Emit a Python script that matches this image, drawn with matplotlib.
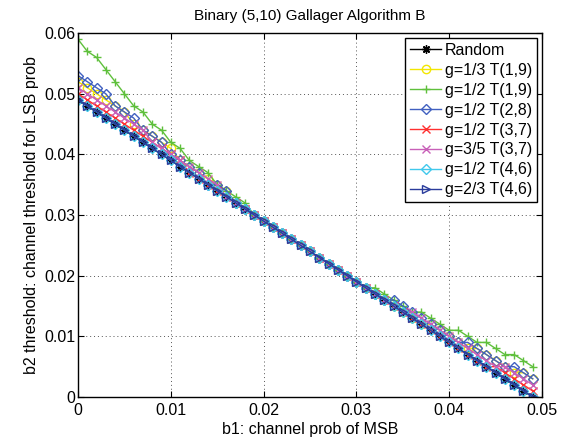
import matplotlib
matplotlib.use("Agg")
import matplotlib.pyplot as plt

plt.rcParams["font.family"] = ["Liberation Sans", "DejaVu Sans"]
plt.rcParams["font.size"] = 11.5

# b1 grid, in units of 0.001
b1_milli = [0, 1, 2, 3, 4, 5, 6, 7, 8, 9,
            10, 11, 12, 13, 14, 15, 16, 17, 18, 19,
            20, 21, 22, 23, 24, 25, 26, 27, 28, 29,
            30, 31, 32, 33, 34, 35, 36, 37, 38, 39,
            40, 41, 42, 43, 44, 45, 46, 47, 48, 49]

# b2 thresholds, in units of 0.001
random_b2 = [49, 48, 47, 46, 45, 44, 43, 42, 41, 40,
             39, 38, 37, 36, 35, 34, 33, 32, 31, 30,
             29, 28, 27, 26, 25, 24, 23, 22, 21, 20,
             19, 18, 17, 16, 15, 14, 13, 12, 11, 10,
             9, 8, 7, 6, 5, 4, 3, 2, 1, 0]
g13_t19 = [52, 51, 50, 49, 48, 47, 45, 44, 43, 42,
           41, 39, 38, 37, 36, 35, 34, 32, 31, 30,
           29, 28, 27, 26, 25, 24, 23, 22, 21, 20,
           19, 18, 17, 16, 15, 14, 13, 12, 12, 11,
           10, 9, 8, 8, 7, 6, 5, 4, 4, 3]
g12_t19 = [59, 57, 56, 54, 52, 50, 48, 47, 45, 44,
           42, 41, 39, 38, 37, 35, 34, 33, 32, 30,
           29, 28, 27, 26, 25, 24, 23, 22, 21, 20,
           19, 18, 18, 17, 16, 15, 14, 14, 13, 12,
           11, 11, 10, 9, 9, 8, 7, 7, 6, 5]
g12_t28 = [53, 52, 51, 50, 48, 47, 46, 44, 43, 42,
           40, 39, 38, 37, 35, 35, 34, 32, 31, 30,
           29, 28, 27, 26, 25, 24, 23, 22, 21, 20,
           19, 18, 17, 16, 16, 15, 14, 13, 12, 11,
           10, 9, 9, 8, 7, 6, 5, 5, 4, 3]
g12_t37 = [50, 49, 48, 47, 46, 45, 44, 43, 42, 41,
           40, 39, 37, 36, 35, 34, 33, 32, 31, 30,
           29, 28, 27, 26, 25, 24, 23, 22, 21, 20,
           19, 18, 17, 16, 15, 14, 13, 12, 11, 10,
           9, 8, 7, 6, 5, 5, 4, 3, 2, 1]
g35_t37 = [51, 50, 49, 48, 47, 46, 45, 44, 42, 41,
           40, 39, 38, 37, 36, 35, 33, 32, 31, 30,
           29, 28, 27, 26, 25, 24, 23, 22, 21, 20,
           19, 18, 17, 16, 15, 14, 14, 13, 12, 11,
           10, 9, 8, 7, 6, 5, 5, 4, 3, 2]
g12_t46 = [49, 48, 47, 46, 45, 44, 43, 42, 41, 40,
           39, 38, 37, 36, 35, 34, 33, 32, 31, 30,
           29, 28, 27, 26, 25, 24, 23, 22, 21, 20,
           19, 18, 17, 16, 15, 14, 13, 12, 11, 10,
           9, 8, 7, 6, 5, 4, 3, 2, 1, 0]
g23_t46 = [49, 48, 47, 46, 45, 44, 43, 42, 41, 40,
           39, 38, 37, 36, 35, 34, 33, 32, 31, 30,
           29, 28, 27, 26, 25, 24, 23, 22, 21, 20,
           19, 18, 17, 16, 15, 14, 13, 12, 11, 10,
           9, 8, 7, 6, 5, 4, 3, 2, 1, 0]

series = [
    ("Random", random_b2, "black", (8, 2, 0)),
    ("g=1/3 T(1,9)", g13_t19, "#f2e600", "o"),
    ("g=1/2 T(1,9)", g12_t19, "#5fc03c", "+"),
    ("g=1/2 T(2,8)", g12_t28, "#4060c0", "D"),
    ("g=1/2 T(3,7)", g12_t37, "#ff3030", "x"),
    ("g=3/5 T(3,7)", g35_t37, "#c860b8", "x"),
    ("g=1/2 T(4,6)", g12_t46, "#40c8ec", "D"),
    ("g=2/3 T(4,6)", g23_t46, "#2a3c9c", ">"),
]

x = [v * 0.001 for v in b1_milli]

fig = plt.figure(figsize=(5.76, 4.40), dpi=100)
ax = fig.add_axes([0.1354, 0.0977, 0.8056, 0.827])

for label, vals, color, marker in series:
    y = [v * 0.001 for v in vals]
    ms = 5.5 if marker == "D" else 6
    ax.plot(x, y, color=color, marker=marker, markersize=ms,
            markerfacecolor="none", markeredgecolor=color,
            markeredgewidth=1.0, linewidth=1.0, label=label)

ax.set_xlim(0, 0.05)
ax.set_ylim(0, 0.06)
ax.set_xticks([0, 0.01, 0.02, 0.03, 0.04, 0.05])
ax.set_xticklabels(["0", "0.01", "0.02", "0.03", "0.04", "0.05"])
ax.set_yticks([0, 0.01, 0.02, 0.03, 0.04, 0.05, 0.06])
ax.set_yticklabels(["0", "0.01", "0.02", "0.03", "0.04", "0.05", "0.06"])
ax.tick_params(direction="in", top=True, right=True, length=4, width=0.8,
               labelsize=11.5)
ax.tick_params(axis="x", pad=4)
ax.tick_params(axis="y", pad=2)
ax.grid(True, linestyle=(0, (1, 3)), color="#555555", linewidth=0.7)
for sp in ax.spines.values():
    sp.set_linewidth(1.0)

ax.set_title("Binary (5,10) Gallager Algorithm B", fontsize=11, pad=9.5)
ax.set_xlabel("b1: channel prob of MSB", labelpad=3)
ax.set_ylabel("b2 threshold: channel threshold for LSB prob", labelpad=3.5)

leg = ax.legend(loc="upper right", fontsize=11.5, handlelength=1.95,
                handletextpad=0.25, labelspacing=0.31, borderpad=0.3,
                borderaxespad=0.3, fancybox=False, framealpha=1)
leg.get_frame().set_edgecolor("black")
leg.get_frame().set_linewidth(1.0)

fig.savefig("out.png", dpi=100)
